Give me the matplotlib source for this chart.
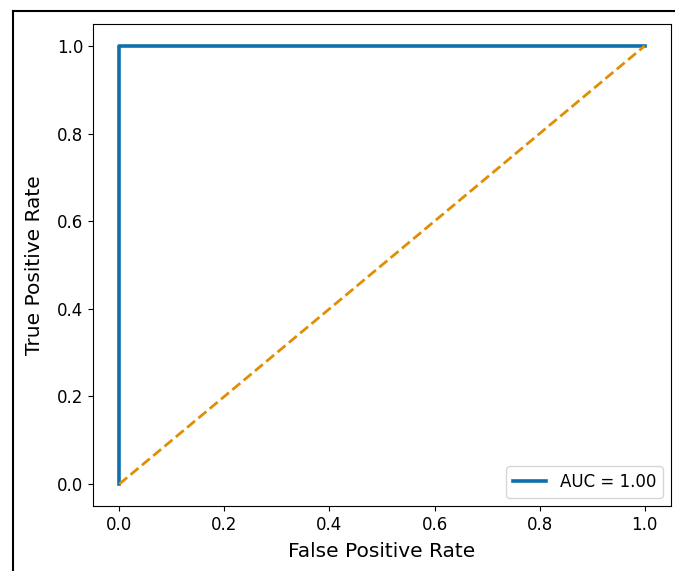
import matplotlib
matplotlib.use("Agg")
import matplotlib.pyplot as plt
from matplotlib.lines import Line2D

# ROC curve points
fpr = [0.0, 0.0, 1.0]
tpr = [0.0, 1.0, 1.0]
chance_x = [0.0, 1.0]
chance_y = [0.0, 1.0]
auc_value = 1.00

W, H = 675, 571
fig = plt.figure(figsize=(W / 100, H / 100), dpi=100)
ax = fig.add_axes([93 / W, 1 - 506 / H, (671 - 93) / W, (506 - 24) / H])

ax.plot(fpr, tpr, color="#0F6FA8", lw=2.6, label=f"AUC = {auc_value:.2f}")
ax.plot(chance_x, chance_y, color="#DE8F05", lw=2.0, ls="--")

ax.set_xlim(-0.05, 1.05)
ax.set_ylim(-0.05, 1.05)
ax.set_xticks([0, 0.2, 0.4, 0.6, 0.8, 1.0])
ax.set_yticks([0, 0.2, 0.4, 0.6, 0.8, 1.0])
ax.tick_params(labelsize=12)
ax.set_xlabel("False Positive Rate", fontsize=14.5, labelpad=6)
ax.set_ylabel("True Positive Rate", fontsize=14.5, labelpad=9)
ax.legend(loc="lower right", fontsize=12)

# outer screenshot frame (left and top edges)
fig.add_artist(Line2D([13 / W, 13 / W], [0, 1 - 11 / H], transform=fig.transFigure, color="black", lw=1.5))
fig.add_artist(Line2D([13 / W, 1], [1 - 11 / H, 1 - 11 / H], transform=fig.transFigure, color="black", lw=1.5))

fig.savefig("out.png", dpi=100)
